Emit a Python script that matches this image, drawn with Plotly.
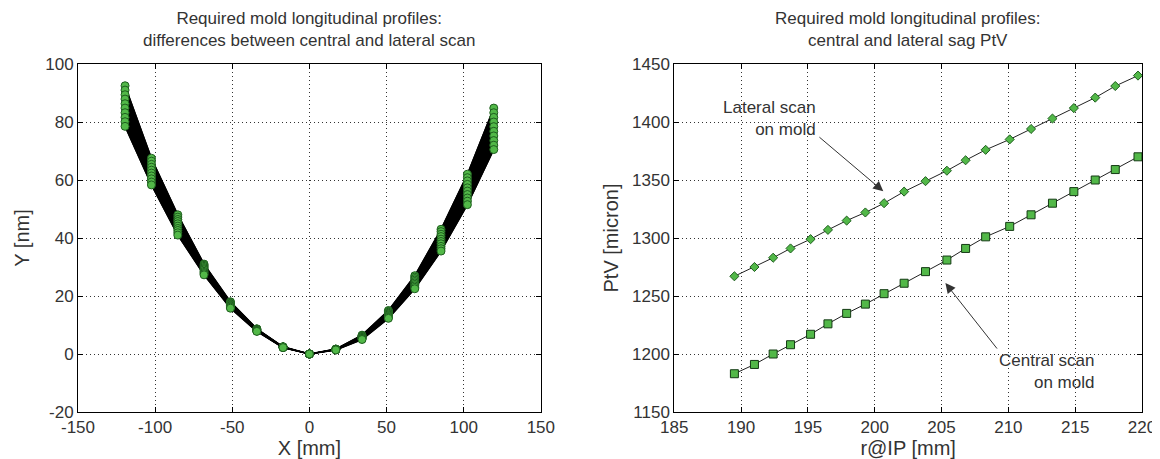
import plotly.graph_objects as go

# left panel: longitudinal profiles at the 15 scan stations
x_mm = [-119.5, -102.4, -85.3, -68.3, -51.2, -34.1, -17.1, 0.0,
        17.1, 34.1, 51.2, 68.3, 85.3, 102.4, 119.5]

scan_01 = [92.5, 67.5, 48.0, 31.0, 18.0, 8.7, 2.5, 0.0, 1.7, 6.5, 15.0, 27.0, 43.0, 62.0, 84.8]
scan_02 = [91.0, 66.5, 47.2, 30.6, 17.8, 8.6, 2.5, 0.0, 1.7, 6.3, 14.7, 26.5, 42.2, 60.8, 83.2]
scan_03 = [89.4, 65.4, 46.4, 30.2, 17.5, 8.5, 2.4, 0.0, 1.6, 6.2, 14.4, 26.0, 41.3, 59.7, 81.6]
scan_04 = [87.9, 64.4, 45.7, 29.8, 17.3, 8.4, 2.4, 0.0, 1.6, 6.0, 14.1, 25.5, 40.5, 58.5, 80.0]
scan_05 = [86.3, 63.4, 44.9, 29.4, 17.0, 8.3, 2.4, 0.0, 1.6, 5.8, 13.8, 25.0, 39.6, 57.3, 78.4]
scan_06 = [84.8, 62.4, 44.1, 29.0, 16.8, 8.2, 2.3, 0.0, 1.5, 5.7, 13.5, 24.5, 38.8, 56.2, 76.8]
scan_07 = [83.2, 61.4, 43.3, 28.5, 16.6, 8.1, 2.3, 0.0, 1.5, 5.5, 13.2, 24.0, 38.0, 55.0, 75.2]
scan_08 = [81.6, 60.4, 42.6, 28.1, 16.3, 8.0, 2.3, 0.0, 1.5, 5.4, 12.9, 23.5, 37.1, 53.8, 73.6]
scan_09 = [80.1, 59.3, 41.8, 27.7, 16.1, 7.9, 2.2, 0.0, 1.4, 5.2, 12.6, 23.0, 36.3, 52.7, 72.0]
scan_10 = [78.5, 58.3, 41.0, 27.3, 15.8, 7.8, 2.2, 0.0, 1.4, 5.0, 12.3, 22.5, 35.5, 51.5, 70.5]

scans = [scan_01, scan_02, scan_03, scan_04, scan_05,
         scan_06, scan_07, scan_08, scan_09, scan_10]

# right panel: sag PtV vs radius at IP
r_ip = [189.5, 191.0, 192.4, 193.7, 195.2, 196.5, 197.9, 199.3, 200.7, 202.2, 203.8,
        205.4, 206.8, 208.3, 210.1, 211.7, 213.3, 214.9, 216.5, 218.0, 219.7]
ptv_lateral = [1267, 1275, 1283, 1291, 1299, 1307, 1315, 1322, 1330, 1340, 1349,
               1358, 1367, 1376, 1385, 1394, 1403, 1412, 1421, 1431, 1440]
ptv_central = [1183, 1191, 1200, 1208, 1217, 1226, 1235, 1243, 1252, 1261, 1271,
               1281, 1291, 1301, 1310, 1320, 1330, 1340, 1350, 1359, 1370]

# tick labels (plain hyphen minus, as in the original)
x1_ticks = [-150, -100, -50, 0, 50, 100, 150]
y1_ticks = [-20, 0, 20, 40, 60, 80, 100]
x2_ticks = [185, 190, 195, 200, 205, 210, 215, 220]
y2_ticks = [1150, 1200, 1250, 1300, 1350, 1400, 1450]

FONT = "Liberation Sans, Arial, sans-serif"
TXT = "#333333"
GREEN = "#52b848"
DKGREEN = "#1e5e1e"

fig = go.Figure()

# black band between the outermost profiles
fig.add_trace(go.Scatter(x=x_mm, y=scans[0], mode="lines", line=dict(color="black", width=1.5),
                         xaxis="x", yaxis="y", showlegend=False, hoverinfo="skip"))
fig.add_trace(go.Scatter(x=x_mm, y=scans[-1], mode="lines", line=dict(color="black", width=1.5),
                         fill="tonexty", fillcolor="black",
                         xaxis="x", yaxis="y", showlegend=False, hoverinfo="skip"))
for s in scans:
    fig.add_trace(go.Scatter(x=x_mm, y=s, mode="lines", line=dict(color="black", width=1.2),
                             xaxis="x", yaxis="y", showlegend=False))
for s in scans:
    fig.add_trace(go.Scatter(x=x_mm, y=s, mode="markers",
                             marker=dict(symbol="circle", size=8, color=GREEN,
                                         line=dict(color=DKGREEN, width=1)),
                             xaxis="x", yaxis="y", showlegend=False))

fig.add_trace(go.Scatter(x=r_ip, y=ptv_lateral, mode="lines+markers",
                         line=dict(color="#222222", width=1),
                         marker=dict(symbol="diamond", size=7, color=GREEN,
                                     line=dict(color=DKGREEN, width=1)),
                         xaxis="x2", yaxis="y2", showlegend=False))
fig.add_trace(go.Scatter(x=r_ip, y=ptv_central, mode="lines+markers",
                         line=dict(color="#222222", width=1),
                         marker=dict(symbol="square", size=8, color=GREEN,
                                     line=dict(color="#143a14", width=1)),
                         xaxis="x2", yaxis="y2", showlegend=False))

axis_style = dict(
    showline=True, linecolor="black", linewidth=1, mirror="ticks",
    ticks="inside", ticklen=5, tickcolor="black",
    showgrid=True, gridcolor="#333333", griddash="1px,3px", gridwidth=1,
    zeroline=False, tickfont=dict(size=17, color=TXT),
)


def ticks(vals):
    return dict(tickmode="array", tickvals=vals, ticktext=[str(v) for v in vals])


fig.update_layout(
    width=1160, height=459,
    margin=dict(l=70, r=14, t=56, b=47),
    paper_bgcolor="white", plot_bgcolor="white",
    font=dict(family=FONT, size=17, color=TXT),
    xaxis=dict(axis_style, **ticks(x1_ticks), domain=[0, 0.435], range=[-150, 150],
               title=dict(text="X [mm]", standoff=4), anchor="y"),
    yaxis=dict(axis_style, **ticks(y1_ticks), range=[-20, 100],
               title=dict(text="Y [nm]", standoff=10), anchor="x"),
    xaxis2=dict(axis_style, **ticks(x2_ticks), domain=[0.5604, 1], range=[185, 220],
                title=dict(text="r@IP [mm]", standoff=4), anchor="y2"),
    yaxis2=dict(axis_style, **ticks(y2_ticks), range=[1150, 1450],
                title=dict(text="PtV [micron]", standoff=8), anchor="x2"),
)

titles = [
    ("x", "y", "Required mold longitudinal profiles:<br>differences between central and lateral scan"),
    ("x2", "y2", "Required mold longitudinal profiles:<br>central and lateral sag PtV"),
]
for xr, yr, t in titles:
    fig.add_annotation(text=t, xref=f"{xr} domain", yref=f"{yr} domain", x=0.5, y=1,
                       xanchor="center", yanchor="bottom", yshift=12, showarrow=False,
                       font=dict(size=17, color=TXT))

# callouts on the right panel
fig.add_annotation(xref="x2", yref="y2", x=200.64, y=1340.3, ax=195.75, ay=1388,
                   axref="x2", ayref="y2", text="", showarrow=True,
                   arrowhead=2, arrowsize=2, arrowwidth=1, arrowcolor="#333333")
fig.add_annotation(xref="x2", yref="y2", x=195.75, y=1403, text="Lateral scan<br>on mold",
                   showarrow=False, xanchor="right", yanchor="middle", align="right",
                   font=dict(size=17, color=TXT))
fig.add_annotation(xref="x2", yref="y2", x=205.29, y=1261.1, ax=209.24, ay=1203.4,
                   axref="x2", ayref="y2", text="", showarrow=True,
                   arrowhead=2, arrowsize=2, arrowwidth=1, arrowcolor="#333333")
fig.add_annotation(xref="x2", yref="y2", x=216.58, y=1185, text="Central scan<br>on mold",
                   showarrow=False, xanchor="right", yanchor="middle", align="right",
                   font=dict(size=17, color=TXT))

fig.write_html("out.html")
